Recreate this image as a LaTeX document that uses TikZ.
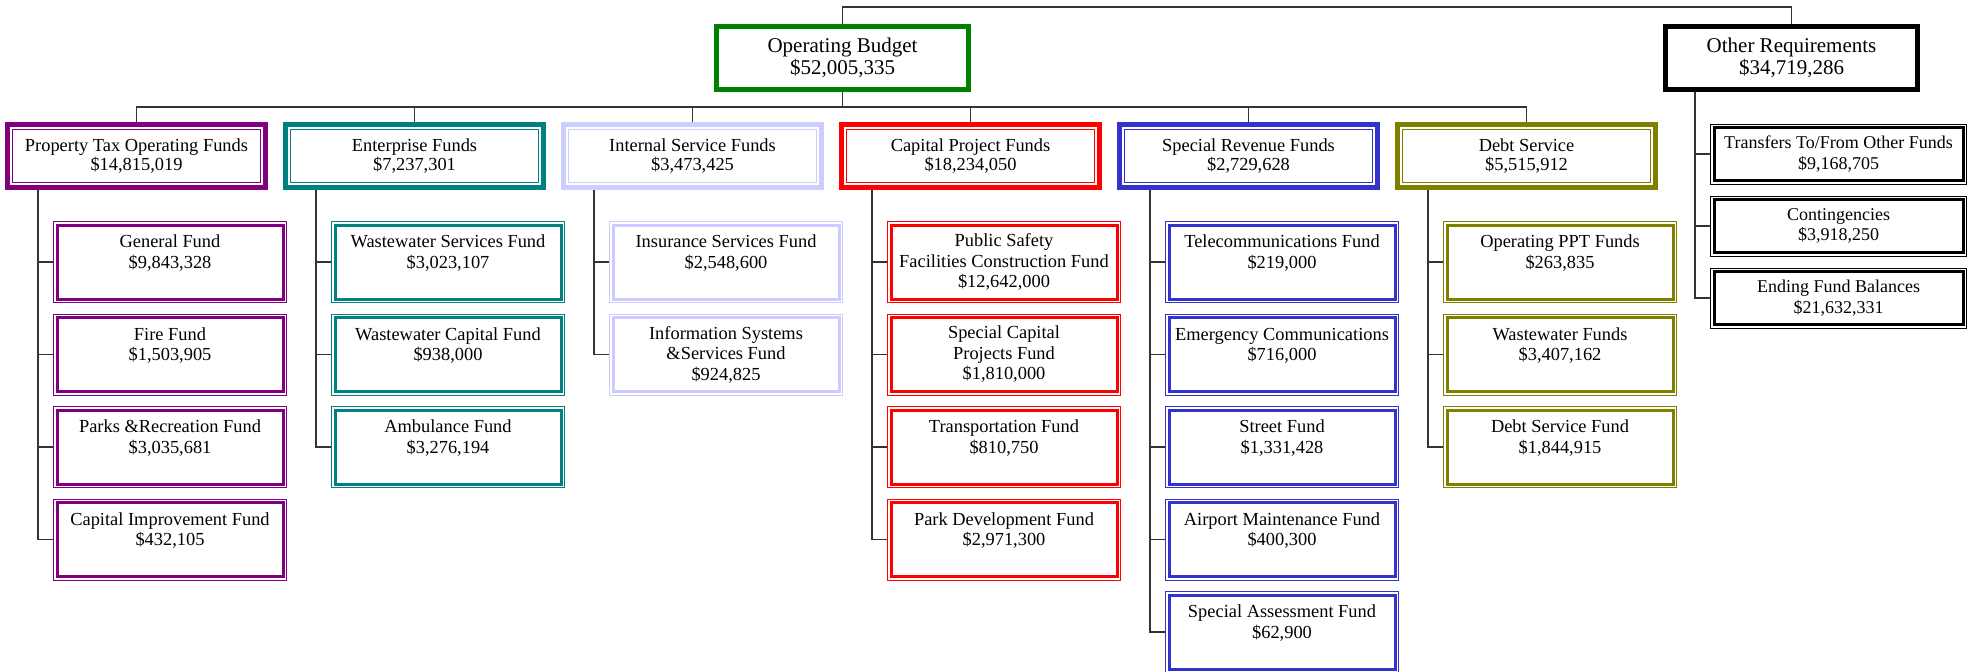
\documentclass[tikz,border=0pt]{standalone}
\usepackage{fontspec}
\setmainfont{Liberation Serif}

\definecolor{obgreen}{HTML}{008000}
\definecolor{ptpurple}{HTML}{800080}
\definecolor{entteal}{HTML}{008080}
\definecolor{islav}{HTML}{CCCCFF}
\definecolor{cpred}{HTML}{FF0000}
\definecolor{srblue}{HTML}{3333CC}
\definecolor{dsolive}{HTML}{808000}

\tikzset{
  link/.style={line width=0.6pt, draw=black!80},
  topbox/.style={draw=#1, line width=2.5pt, minimum width=126pt, minimum height=31.5pt,
    inner sep=0pt, align=center, font=\fontsize{10.5}{11}\selectfont},
  groupbox/.style={draw=#1, line width=0.5pt, minimum width=124pt, minimum height=26.5pt,
    inner sep=0pt, outer sep=3.75pt, align=center, font=\fontsize{9.2}{9.5}\selectfont,
    preaction={draw=#1, line width=7.5pt},
    preaction={fill=white, draw=white, line width=2.5pt}},
  fundbox/.style={draw=#1, line width=1.5pt, minimum width=113pt, minimum height=37pt,
    inner sep=0pt, outer sep=2pt, align=center, font=\fontsize{9.2}{10.25}\selectfont,
    preaction={draw=#1, line width=4pt},
    preaction={fill=white, draw=white, line width=3pt}},
  reqbox/.style={fundbox=black, minimum width=124.5pt, minimum height=26.5pt,
    font=\fontsize{9}{10.2}\selectfont},
}

\begin{document}
\begin{tikzpicture}[x=0.5pt,y=-0.5pt]
  \useasboundingbox (0,0) rectangle (1973,671);

  % top level
  \node[topbox=obgreen] (ob) at (842.5,57.5) {Operating Budget\\\$52,005,335};
  \node[topbox=black] (oreq) at (1791.5,57.5) {Other Requirements\\\$34,719,286};

  % fund groups
  \node[groupbox=ptpurple] (ptax) at (136.5,156) {Property Tax Operating Funds\\\$14,815,019};
  \node[groupbox=entteal] (ent) at (414.5,156) {Enterprise Funds\\\$7,237,301};
  \node[groupbox=islav] (isf) at (692.5,156) {Internal Service Funds\\\$3,473,425};
  \node[groupbox=cpred] (cpf) at (970.5,156) {Capital Project Funds\\\$18,234,050};
  \node[groupbox=srblue] (srf) at (1248.5,156) {Special Revenue Funds\\\$2,729,628};
  \node[groupbox=dsolive] (dsf) at (1526.5,156) {Debt Service\\\$5,515,912};

  % property tax operating funds
  \node[fundbox=ptpurple] (gen) at (170,262) {General Fund\\\$9,843,328\\\mbox{}};
  \node[fundbox=ptpurple] (fire) at (170,354.5) {Fire Fund\\\$1,503,905\\\mbox{}};
  \node[fundbox=ptpurple] (parks) at (170,447) {Parks \&Recreation Fund\\\$3,035,681\\\mbox{}};
  \node[fundbox=ptpurple] (capimp) at (170,539.5) {Capital Improvement Fund\\\$432,105\\\mbox{}};

  % enterprise funds
  \node[fundbox=entteal] (wws) at (448,262) {Wastewater Services Fund\\\$3,023,107\\\mbox{}};
  \node[fundbox=entteal] (wwc) at (448,354.5) {Wastewater Capital Fund\\\$938,000\\\mbox{}};
  \node[fundbox=entteal] (amb) at (448,447) {Ambulance Fund\\\$3,276,194\\\mbox{}};

  % internal service funds
  \node[fundbox=islav] (ins) at (726,262) {Insurance Services Fund\\\$2,548,600\\\mbox{}};
  \node[fundbox=islav] (infsys) at (726,354.5) {Information Systems\\\&Services Fund\\\$924,825};

  % capital project funds
  \node[fundbox=cpred] (pubsafe) at (1004,262) {Public Safety\\Facilities Construction Fund\\\$12,642,000};
  \node[fundbox=cpred] (spcap) at (1004,354.5) {Special Capital\\Projects Fund\\\$1,810,000};
  \node[fundbox=cpred] (trans) at (1004,447) {Transportation Fund\\\$810,750\\\mbox{}};
  \node[fundbox=cpred] (parkdev) at (1004,539.5) {Park Development Fund\\\$2,971,300\\\mbox{}};

  % special revenue funds
  \node[fundbox=srblue] (telecom) at (1282,262) {Telecommunications Fund\\\$219,000\\\mbox{}};
  \node[fundbox=srblue] (emerg) at (1282,354.5) {Emergency Communications\\\$716,000\\\mbox{}};
  \node[fundbox=srblue] (street) at (1282,447) {Street Fund\\\$1,331,428\\\mbox{}};
  \node[fundbox=srblue] (airport) at (1282,539.5) {Airport Maintenance Fund\\\$400,300\\\mbox{}};
  \node[fundbox=srblue] (spassess) at (1282,632) {Special Assessment Fund\\\$62,900\\\mbox{}};

  % debt service
  \node[fundbox=dsolive] (ppt) at (1560,262) {Operating PPT Funds\\\$263,835\\\mbox{}};
  \node[fundbox=dsolive] (wwf) at (1560,354.5) {Wastewater Funds\\\$3,407,162\\\mbox{}};
  \node[fundbox=dsolive] (dsfund) at (1560,447) {Debt Service Fund\\\$1,844,915\\\mbox{}};

  % other requirements
  \node[reqbox] (transfers) at (1838.5,154) {Transfers To/From Other Funds\\\$9,168,705};
  \node[reqbox] (conting) at (1838.5,226) {Contingencies\\\$3,918,250};
  \node[reqbox] (ending) at (1838.5,298) {Ending Fund Balances\\\$21,632,331};

  % connectors
  \draw[link] (ob.north) -- ++(0,-16.5) -| (oreq.north);
  \draw[link] (ob.south) -- ++(0,15.5) coordinate (bus);
  \foreach \g in {ptax,ent,isf,cpf,srf,dsf}
    \draw[link] (bus) -| (\g.north);
  \foreach \c in {gen,fire,parks,capimp}
    \draw[link] (ptax.south west) ++(33,0) |- (\c.west);
  \foreach \c in {wws,wwc,amb}
    \draw[link] (ent.south west) ++(33,0) |- (\c.west);
  \foreach \c in {ins,infsys}
    \draw[link] (isf.south west) ++(33,0) |- (\c.west);
  \foreach \c in {pubsafe,spcap,trans,parkdev}
    \draw[link] (cpf.south west) ++(33,0) |- (\c.west);
  \foreach \c in {telecom,emerg,street,airport,spassess}
    \draw[link] (srf.south west) ++(33,0) |- (\c.west);
  \foreach \c in {ppt,wwf,dsfund}
    \draw[link] (dsf.south west) ++(33,0) |- (\c.west);
  \foreach \c in {transfers,conting,ending}
    \draw[link] (oreq.south west) ++(32,0) |- (\c.west);
\end{tikzpicture}
\end{document}
